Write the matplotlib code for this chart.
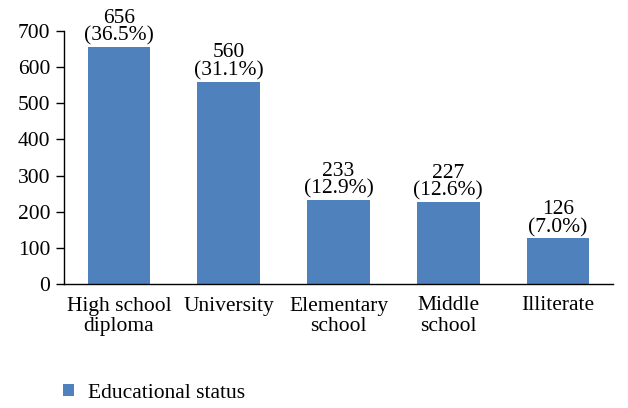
import matplotlib.pyplot as plt
import numpy as np

# Дані
categories = ['High school\ndiploma', 'University', 'Elementary\nschool', 'Middle\nschool', 'Illiterate']
counts = [656, 560, 233, 227, 126]
percents = ['36.5%', '31.1%', '12.9%', '12.6%', '7.0%']

plt.rcParams['font.family'] = ['Liberation Serif', 'DejaVu Serif']
plt.rcParams['font.size'] = 15.5

fig = plt.figure(figsize=(6.28, 4.08), dpi=100)
ax = fig.add_axes([64 / 628, 1 - 284 / 408, (613 - 64) / 628, (284 - 31) / 408])

x = np.arange(len(categories))
bars = ax.bar(x, counts, width=0.57, color='#4F81BD', label='Educational status')

for xi, c, p in zip(x, counts, percents):
    ax.annotate(f'{c}\n({p})', (xi, c), xytext=(0, 1), textcoords='offset points',
                ha='center', va='bottom', linespacing=0.9)

ax.set_xlim(-0.5, len(categories) - 0.5)
ax.set_ylim(0, 700)
ax.set_yticks(range(0, 701, 100))
ax.set_xticks(x)
ax.set_xticklabels(categories, linespacing=1.1)
ax.tick_params(axis='x', length=0, pad=9)
ax.tick_params(axis='y', length=6, width=1, pad=4)
for s in ['top', 'right']:
    ax.spines[s].set_visible(False)
for s in ['left', 'bottom']:
    ax.spines[s].set_linewidth(1)

fig.legend(loc='upper left', bbox_to_anchor=(63 / 628, 1 - 384 / 408), frameon=False,
           handlelength=0.5, handleheight=0.5, handletextpad=0.65, borderpad=0,
           borderaxespad=0)

fig.savefig('out.png', dpi=100)
